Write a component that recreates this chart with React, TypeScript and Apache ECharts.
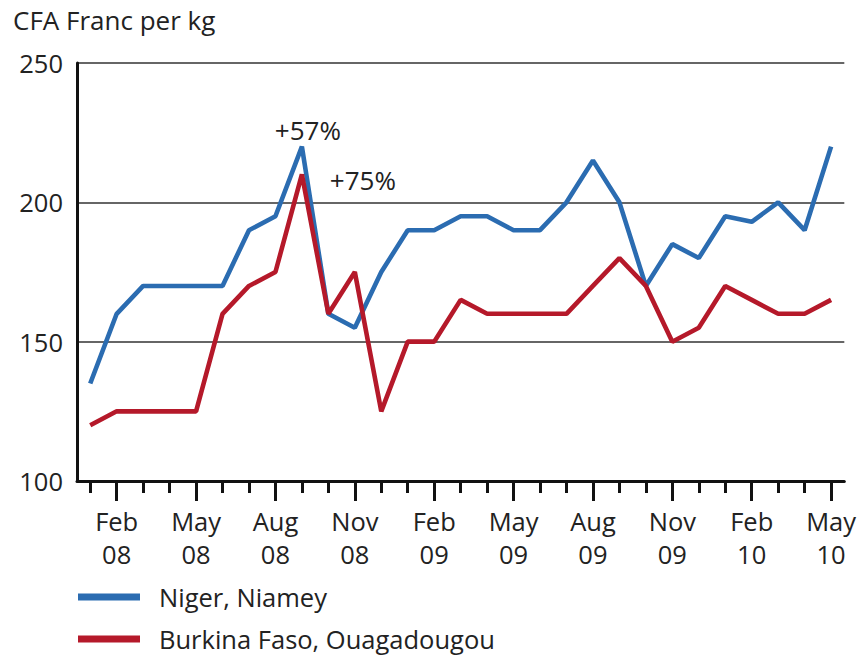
import React, { useEffect, useRef } from "react";
import * as echarts from "echarts";

const months = [
  "Jan 08", "Feb 08", "Mar 08", "Apr 08", "May 08", "Jun 08", "Jul 08", "Aug 08", "Sep 08", "Oct 08", "Nov 08", "Dec 08",
  "Jan 09", "Feb 09", "Mar 09", "Apr 09", "May 09", "Jun 09", "Jul 09", "Aug 09", "Sep 09", "Oct 09", "Nov 09", "Dec 09",
  "Jan 10", "Feb 10", "Mar 10", "Apr 10", "May 10",
];

const niger = [
  135, 160, 170, 170, 170, 170, 190, 195, 220, 160, 155, 175,
  190, 190, 195, 195, 190, 190, 200, 215, 200, 170, 185, 180,
  195, 193, 200, 190, 220,
];

const burkina = [
  120, 125, 125, 125, 125, 160, 170, 175, 210, 160, 175, 125,
  150, 150, 165, 160, 160, 160, 160, 170, 180, 170, 150, 155,
  170, 165, 160, 160, 165,
];

const yTicks = { min: 100, max: 250, interval: 50 };
const seriesNames = ["Niger, Niamey", "Burkina Faso, Ouagadougou"];
const annotations = [
  { text: "+57%", index: 8 },
  { text: "+75%", index: 8 },
];
const title = "CFA Franc per kg";

const FONT = "'Open Sans', 'Noto Sans', sans-serif";
const BLUE = "#2b6cb1";
const RED = "#b5192a";
const TEXT = "#222";
const FS = 25.5;

export default function App() {
  const ref = useRef<HTMLDivElement>(null);
  useEffect(() => {
    if (!ref.current) return;
    const chart = echarts.init(ref.current, null, { renderer: "svg" });
    const isLong = (i: number) => i % 3 === 1;
    chart.setOption({
      animation: false,
      backgroundColor: "#ffffff",
      textStyle: { fontFamily: FONT },
      title: {
        text: title,
        left: 8,
        top: 2,
        textStyle: { fontFamily: FONT, fontSize: 26, fontWeight: "normal", color: TEXT },
      },
      legend: {
        orient: "vertical",
        left: 78,
        top: 583,
        padding: 0,
        itemWidth: 62,
        itemHeight: 7,
        itemGap: 14,
        icon: "rect",
        data: seriesNames,
        textStyle: { fontFamily: FONT, fontSize: FS, color: TEXT, lineHeight: 28, padding: [0, 0, 0, 14] },
      },
      grid: { left: 77, right: 14, top: 63, bottom: 176, containLabel: false },
      xAxis: [
        {
          type: "category",
          data: months,
          boundaryGap: true,
          position: "bottom",
          axisLine: { show: true, lineStyle: { color: "#111", width: 3 } },
          axisTick: {
            show: true,
            alignWithLabel: true,
            interval: (i: number) => isLong(i),
            length: 20,
            lineStyle: { color: "#111", width: 3 },
          },
          axisLabel: {
            show: true,
            interval: (i: number) => isLong(i),
            margin: 23,
            fontFamily: FONT,
            fontSize: FS,
            lineHeight: 33,
            color: TEXT,
            formatter: (v: string) => v.replace(" ", "\n"),
          },
          splitLine: { show: false },
        },
        {
          type: "category",
          data: months,
          boundaryGap: true,
          position: "bottom",
          axisLine: { show: false },
          axisTick: {
            show: true,
            alignWithLabel: true,
            interval: (i: number) => !isLong(i),
            length: 12,
            lineStyle: { color: "#111", width: 3 },
          },
          axisLabel: { show: false },
          splitLine: { show: false },
        },
      ],
      yAxis: {
        type: "value",
        min: yTicks.min,
        max: yTicks.max,
        interval: yTicks.interval,
        axisLine: { show: true, lineStyle: { color: "#111", width: 3 } },
        axisTick: { show: false },
        axisLabel: { margin: 14, fontFamily: FONT, fontSize: FS, color: TEXT },
        splitLine: { show: true, lineStyle: { color: "#333", width: 1.5 } },
      },
      series: [
        {
          name: seriesNames[0],
          type: "line",
          data: niger,
          xAxisIndex: 0,
          symbol: "none",
          color: BLUE,
          lineStyle: { color: BLUE, width: 4.6 },
          markPoint: {
            symbol: "circle",
            symbolSize: 0,
            data: [
              {
                coord: [annotations[0].index, niger[annotations[0].index]],
                label: {
                  show: true,
                  formatter: annotations[0].text,
                  position: "inside",
                  offset: [6, -17],
                  fontFamily: FONT,
                  fontSize: 26,
                  color: TEXT,
                },
              },
            ],
          },
        },
        {
          name: seriesNames[1],
          type: "line",
          data: burkina,
          xAxisIndex: 0,
          symbol: "none",
          color: RED,
          lineStyle: { color: RED, width: 4.6 },
          markPoint: {
            symbol: "circle",
            symbolSize: 0,
            data: [
              {
                coord: [annotations[1].index, burkina[annotations[1].index]],
                label: {
                  show: true,
                  formatter: annotations[1].text,
                  position: "inside",
                  offset: [61, 6],
                  fontFamily: FONT,
                  fontSize: 26,
                  color: TEXT,
                },
              },
            ],
          },
        },
      ],
    });
    return () => chart.dispose();
  }, []);
  return <div ref={ref} style={{ position: "fixed", left: 0, top: 0, width: 859, height: 657 }} />;
}
